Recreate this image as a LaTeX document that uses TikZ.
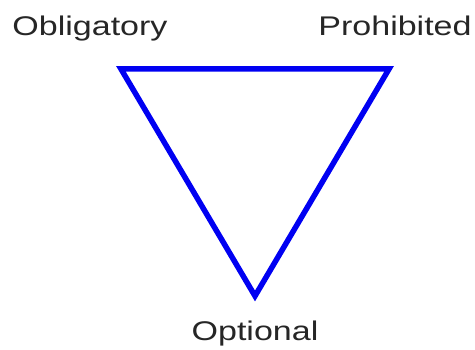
\documentclass[tikz,border=0pt]{standalone}
\usepackage{fontspec}
\setmainfont{Liberation Sans}
\begin{document}
\begin{tikzpicture}[x=1pt,y=-1pt,
  lbl/.style={font=\fontsize{27}{32}\selectfont, text=black!85, inner sep=0pt, anchor=base, xscale=1.26},
  tri/.style={draw=blue!95!black, line width=5.5pt, line join=miter}]
\useasboundingbox (0,0) rectangle (475,350);
\coordinate (A) at (121,69);
\coordinate (B) at (389,69);
\coordinate (C) at (255,296);
\draw[tri] (A) -- (B) -- (C) -- cycle;
\node[lbl] (obl) at (90,36) {Obligatory};
\node[lbl] (pro) at (395,36) {Prohibited};
\node[lbl] (opt) at (255,341) {Optional};
\end{tikzpicture}
\end{document}
